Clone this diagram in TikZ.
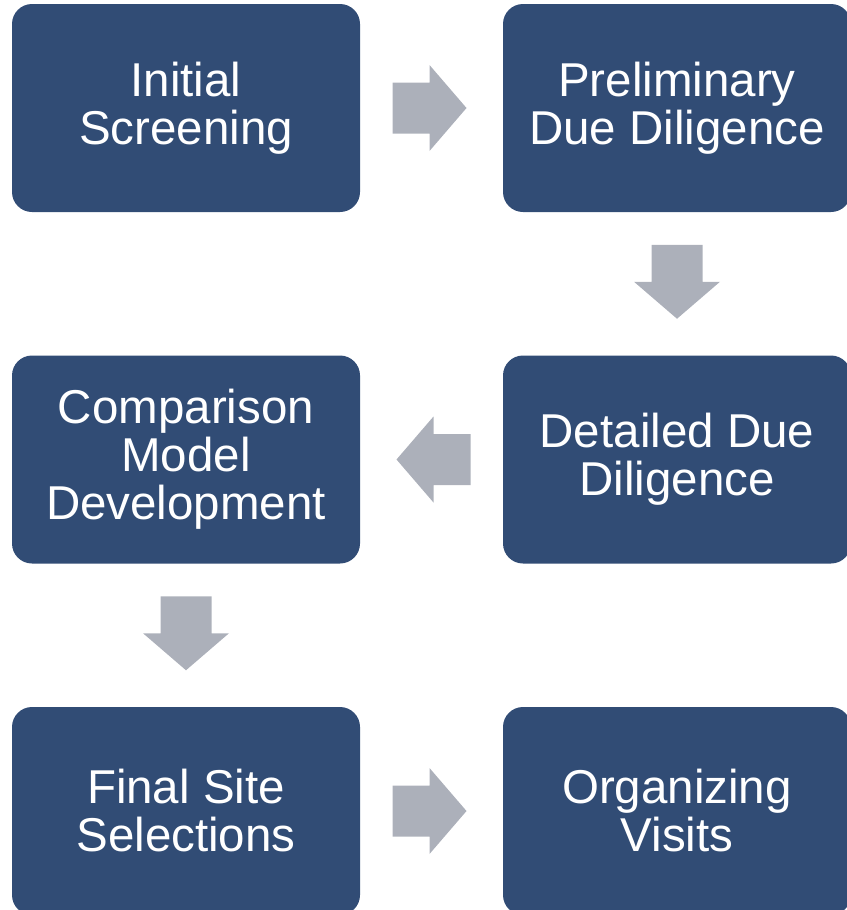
\documentclass[tikz,border=0pt]{standalone}
\usepackage{fontspec}
\setmainfont{Liberation Sans}
\usetikzlibrary{positioning, calc}
\definecolor{stepblue}{HTML}{314C75}
\definecolor{arrowgray}{HTML}{ACB0BA}

\begin{document}
\begin{tikzpicture}[
        x=1pt, y=-1pt,
        stage/.style={rectangle, rounded corners=20pt, fill=stepblue, text=white,
                      minimum width=348pt, minimum height=208pt, inner sep=0pt,
                      align=center, font=\fontsize{47.5}{48}\selectfont},
        flow/.pic={\fill[arrowgray] (-39,-25.5) -- (-2,-25.5) -- (-2,-43) -- (35,0)
                                     -- (-2,43) -- (-2,25.5) -- (-39,25.5) -- cycle;}
    ]
        \useasboundingbox (0,0) rectangle (846,910);

        % --- STAGES ---
        \node[stage] (screen) at (186, 108) {Initial\\Screening};
        \node[stage] (prelim) at (677, 108) {Preliminary\\Due Diligence};
        \node[stage] (detail) at (677, 459.5) {Detailed Due\\Diligence};
        \node[stage] (model) at (186, 459.5) {Comparison\\Model\\Development};
        \node[stage] (final) at (186, 811) {Final Site\\Selections};
        \node[stage] (visits) at (677, 811) {Organizing\\Visits};

        % --- ARROWS BETWEEN STAGES ---
        \pic at ($(screen.east)!0.5!(prelim.west)$) {flow};
        \pic[rotate=-90] at ($(prelim.south)!0.5!(detail.north)$) {flow};
        \pic[rotate=180] at ($(detail.west)!0.5!(model.east)$) {flow};
        \pic[rotate=-90] at ($(model.south)!0.5!(final.north)$) {flow};
        \pic at ($(final.east)!0.5!(visits.west)$) {flow};

\end{tikzpicture}
\end{document}
